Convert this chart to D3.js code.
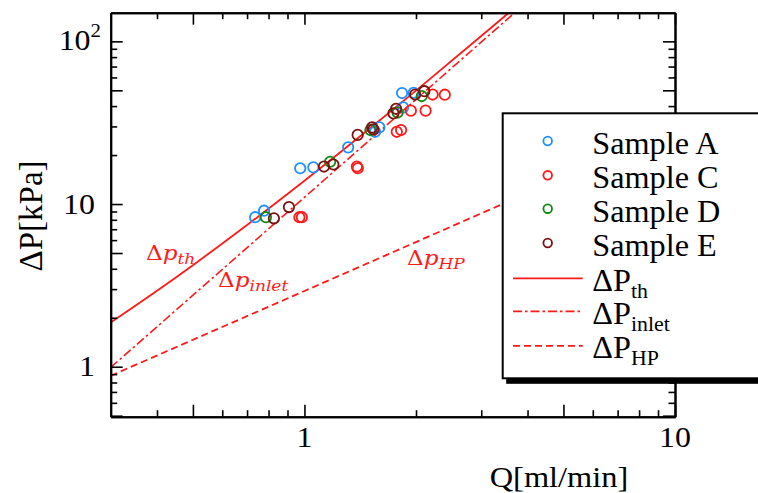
<!DOCTYPE html>
<html>
<head>
<meta charset="utf-8">
<script src="https://cdn.jsdelivr.net/npm/d3@7"></script>
<style>
  body { margin: 0; background: #fff; }
</style>
</head>
<body>
<svg id="chart" width="758" height="493"></svg>
<script>
// Measured pressure drop ΔP [kPa] against flow rate Q [ml/min]
const sampleA_Q = [0.736, 0.778, 0.974, 1.057, 1.312, 1.551, 1.593, 1.834, 1.846, 1.971];
const sampleA_P = [8.3, 9.1, 16.6, 16.8, 22.3, 27.8, 29.6, 48.1, 39.3, 48.3];

const sampleC_Q = [0.969, 0.984, 1.385, 1.393, 1.775, 1.823, 1.937, 2.123, 2.218, 2.392];
const sampleC_P = [8.3, 8.3, 17.0, 16.6, 27.8, 28.5, 37.5, 37.5, 47.1, 47.0];

const sampleD_Q = [0.787, 1.173, 1.507, 1.784, 2.073];
const sampleD_P = [8.3, 18.2, 28.5, 36.5, 46.1];

const sampleE_Q = [0.827, 0.908, 1.129, 1.197, 1.392, 1.523, 1.535, 1.739, 1.767, 1.989, 2.106];
const sampleE_P = [8.17, 9.58, 17.0, 17.5, 26.6, 29.6, 28.8, 36.1, 38.5, 47.1, 49.4];

// Model curves (Q, ΔP) pairs
const thQ = [0.3, 0.4, 0.5, 0.7, 1, 1.5, 2, 3, 4];
const thP = [1.87, 2.93, 4.21, 7.43, 13.9, 29.1, 49.8, 107.8, 187.7];
const inletQ = [0.3, 1, 4];
const inletP = [0.99, 11.0, 176];
const hpQ = [0.3, 1, 10];
const hpP = [0.88, 2.92, 29.2];

// Axis ticks
const xMajorTicks = [0.5, 1, 5, 10];
const xMinorTicks = [0.4, 0.6, 0.7, 0.8, 0.9, 2, 3, 4, 6, 7, 8, 9];
const yMajorTicks = [0.5, 1, 5, 10, 50, 100];
const yMinorTicks = [0.6, 0.7, 0.8, 0.9, 2, 3, 4, 6, 7, 8, 9, 20, 30, 40, 60, 70, 80, 90];
const xTickLabels = [1, 10];
const yTickLabels = [1, 10, 100];

const sampleNames = ["Sample A", "Sample C", "Sample D", "Sample E"];
const sampleColors = ["#1e90ff", "#ff1a1a", "#118811", "#7a1212"];

const RED = "#ff1a1a";
const SERIF = "'Liberation Serif', 'Times New Roman', 'DejaVu Serif', serif";

const svg = d3.select("#chart").attr("font-family", SERIF);
svg.append("rect").attr("width", 758).attr("height", 493).attr("fill", "#fff");

const L = 110.7, R = 675, T = 12.7, B = 416.7;
const x = d3.scaleLog().domain([0.3, 10]).range([L, R]);
const y = d3.scaleLog().domain([0.493, 150]).range([B, T]);

// Clip to the plotting frame
svg.append("defs").append("clipPath").attr("id", "plotClip")
  .append("rect").attr("x", L).attr("y", T).attr("width", R - L).attr("height", B - T);

// Curves
const curves = svg.append("g").attr("clip-path", "url(#plotClip)");
curves.append("path").datum(thQ.map((q, i) => [q, thP[i]]))
  .attr("d", d3.line().x(d => x(d[0])).y(d => y(d[1])).curve(d3.curveMonotoneX))
  .attr("fill", "none").attr("stroke", RED).attr("stroke-width", 1.8);
curves.append("path").datum(inletQ.map((q, i) => [q, inletP[i]]))
  .attr("d", d3.line().x(d => x(d[0])).y(d => y(d[1])))
  .attr("fill", "none").attr("stroke", RED).attr("stroke-width", 1.6)
  .attr("stroke-dasharray", "9,3,2.5,3");
curves.append("path").datum(hpQ.map((q, i) => [q, hpP[i]]))
  .attr("d", d3.line().x(d => x(d[0])).y(d => y(d[1])))
  .attr("fill", "none").attr("stroke", RED).attr("stroke-width", 1.8)
  .attr("stroke-dasharray", "7,4");

// Measured points
const samples = [
  [sampleA_Q, sampleA_P],
  [sampleC_Q, sampleC_P],
  [sampleD_Q, sampleD_P],
  [sampleE_Q, sampleE_P]
];
const pts = svg.append("g").attr("clip-path", "url(#plotClip)");
samples.forEach(([qs, ps], k) => {
  pts.selectAll(null).data(qs.map((q, i) => [q, ps[i]])).enter()
    .append("circle")
    .attr("cx", d => x(d[0])).attr("cy", d => y(d[1])).attr("r", 5.2)
    .attr("fill", "none").attr("stroke", sampleColors[k]).attr("stroke-width", 1.8);
});

// Frame axes, ticks pointing inward
function styleAxis(g) {
  g.selectAll("path.domain").attr("stroke", "#000").attr("stroke-width", 2);
  g.selectAll(".tick line").attr("stroke", "#000").attr("stroke-width", 1.6);
}
function drawAxis(maker, scale, ticks, size, tx, ty) {
  svg.append("g").attr("transform", `translate(${tx},${ty})`)
    .call(maker(scale).tickValues(ticks).tickSize(-size).tickSizeOuter(0).tickFormat(""))
    .call(styleAxis);
}
drawAxis(d3.axisBottom, x, xMajorTicks, 12, 0, B);
drawAxis(d3.axisBottom, x, xMinorTicks, 6.5, 0, B);
drawAxis(d3.axisTop, x, xMajorTicks, 12, 0, T);
drawAxis(d3.axisTop, x, xMinorTicks, 6.5, 0, T);
drawAxis(d3.axisLeft, y, yMajorTicks, 12, L, 0);
drawAxis(d3.axisLeft, y, yMinorTicks, 6.5, L, 0);
drawAxis(d3.axisRight, y, yMajorTicks, 12, R, 0);
drawAxis(d3.axisRight, y, yMinorTicks, 6.5, R, 0);

// Horizontally widened serif text, as in the printed figure
function wideText(px, py, size, sx, anchor) {
  return svg.append("text")
    .attr("transform", `translate(${px},${py}) scale(${sx},1)`)
    .attr("font-family", SERIF)
    .attr("font-size", size).attr("text-anchor", anchor || "start").attr("fill", "#000");
}

// Tick labels
xTickLabels.forEach(v => {
  wideText(x(v), 446.5, 29, 1.1, "middle").text(String(v));
});
yTickLabels.forEach(v => {
  const exp = Math.round(Math.log10(v));
  if (exp >= 2) {
    const t = wideText(101, y(v) + 8.5, 29, 1.1, "end");
    t.append("tspan").text("10");
    t.append("tspan").attr("font-size", 19).attr("dy", -13).text(String(exp));
  } else {
    wideText(95, y(v) + 9.5, 29, 1.1, "end").text(String(v));
  }
});

// Axis titles
wideText(559, 487, 30, 1.08, "middle").text("Q[ml/min]");
svg.append("text")
  .attr("transform", `translate(42,216) rotate(-90)`)
  .attr("font-family", SERIF)
  .attr("font-size", 33).attr("text-anchor", "middle").attr("fill", "#000")
  .text("ΔP[kPa]");

// Curve annotations
function curveLabel(px, py, sub) {
  const t = svg.append("text")
    .attr("transform", `translate(${px},${py}) scale(1.1,1)`)
    .attr("font-family", "'DejaVu Serif', serif")
    .attr("font-size", 21).attr("fill", RED);
  t.append("tspan").text("Δ");
  t.append("tspan").attr("font-style", "italic").text("p");
  t.append("tspan").attr("font-style", "italic").attr("font-size", 15.5).attr("dy", 4).text(sub);
}
curveLabel(146, 260, "th");
curveLabel(218, 287, "inlet");
curveLabel(407, 265, "HP");

// Legend with drop shadow
const lx = 502.7, ly = 113.3, lw = 300, lh = 265;
svg.append("rect").attr("x", lx + 3.5).attr("y", ly + 5.5).attr("width", lw).attr("height", lh)
  .attr("fill", "#000");
svg.append("rect").attr("x", lx).attr("y", ly).attr("width", lw).attr("height", lh)
  .attr("fill", "#fff").attr("stroke", "#000").attr("stroke-width", 2);

const rowBase = [154, 188.3, 221.7, 256];
sampleNames.forEach((name, i) => {
  svg.append("circle").attr("cx", 547.7).attr("cy", rowBase[i] - 13).attr("r", 4.3)
    .attr("fill", "none").attr("stroke", sampleColors[i]).attr("stroke-width", 1.8);
  wideText(592.3, rowBase[i], 31, 1.04).text(name);
});

const curveNames = ["th", "inlet", "HP"];
const curveDash = [null, "9,3,2.5,3", "7,4"];
const curveBase = [290.7, 323.8, 358.3];
curveNames.forEach((sub, i) => {
  const ly2 = curveBase[i] - 12.4;
  const ln = svg.append("line").attr("x1", 513).attr("x2", 582.7).attr("y1", ly2).attr("y2", ly2)
    .attr("stroke", RED).attr("stroke-width", 1.8);
  if (curveDash[i]) ln.attr("stroke-dasharray", curveDash[i]);
  const t = wideText(592.3, curveBase[i], 31, 1.04);
  t.append("tspan").text("ΔP");
  t.append("tspan").attr("font-size", 21).attr("dy", 7).text(sub);
});
</script>
</body>
</html>
